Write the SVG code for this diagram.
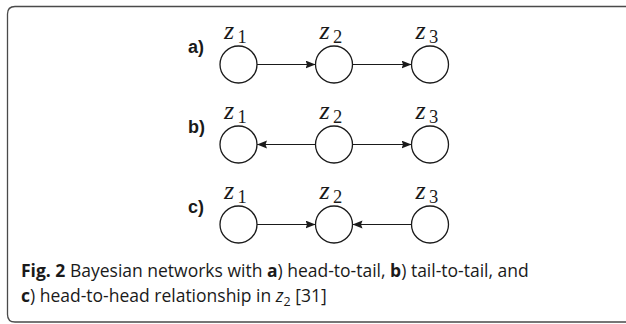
<svg xmlns="http://www.w3.org/2000/svg" width="626" height="324" viewBox="0 0 626 324">
  <defs>
    <marker id="tip" markerUnits="userSpaceOnUse" markerWidth="12" markerHeight="10" refX="10" refY="4" orient="auto">
      <path d="M0,0 L10,4 L0,8 L1.5,4 Z" fill="#1a1a1a"/>
    </marker>
  </defs>
  <style>
    .node { fill: #fff; stroke: #1a1a1a; stroke-width: 1.3; }
    .edge { stroke: #1a1a1a; stroke-width: 1.1; fill: none; marker-end: url(#tip); }
  </style>

  <!-- frame, open on the right -->
  <path d="M626 6.5 H15 Q7.5 6.5 7.5 14 V314.5 Q7.5 322 15 322 H626" fill="none" stroke="#4a4a4a" stroke-width="1.3"/>

  <!-- row labels -->
  <g font-family="Liberation Sans, Arial, sans-serif" font-weight="bold" font-size="18" fill="#1a1a1a">
    <text x="188" y="52.5">a)</text>
    <text x="188" y="132.5">b)</text>
    <text x="188" y="212.5">c)</text>
  </g>

  <!-- connectors -->
  <g id="edges">
    <line class="edge" x1="257" y1="64.5" x2="315.5" y2="64.5"/>
    <line class="edge" x1="352.5" y1="64.5" x2="411.5" y2="64.5"/>
    <line class="edge" x1="315.5" y1="144.5" x2="257" y2="144.5"/>
    <line class="edge" x1="352.5" y1="144.5" x2="411.5" y2="144.5"/>
    <line class="edge" x1="257" y1="224.5" x2="315.5" y2="224.5"/>
    <line class="edge" x1="411.5" y1="224.5" x2="352.5" y2="224.5"/>
  </g>

  <g font-family="Liberation Serif, serif" fill="#1a1a1a">
    <!-- row a -->
    <g id="a-z1"><circle class="node" cx="238.5" cy="64.5" r="18.5"/><text font-style="italic" font-size="26" x="224" y="38.5">z</text><text font-size="18.5" x="237.5" y="42.5">1</text></g>
    <g id="a-z2"><circle class="node" cx="334" cy="64.5" r="18.5"/><text font-style="italic" font-size="26" x="319.5" y="38.5">z</text><text font-size="18.5" x="333" y="42.5">2</text></g>
    <g id="a-z3"><circle class="node" cx="430" cy="64.5" r="18.5"/><text font-style="italic" font-size="26" x="415.5" y="38.5">z</text><text font-size="18.5" x="429" y="42.5">3</text></g>

    <!-- row b -->
    <g id="b-z1"><circle class="node" cx="238.5" cy="144.5" r="18.5"/><text font-style="italic" font-size="26" x="224" y="118.5">z</text><text font-size="18.5" x="237.5" y="122.5">1</text></g>
    <g id="b-z2"><circle class="node" cx="334" cy="144.5" r="18.5"/><text font-style="italic" font-size="26" x="319.5" y="118.5">z</text><text font-size="18.5" x="333" y="122.5">2</text></g>
    <g id="b-z3"><circle class="node" cx="430" cy="144.5" r="18.5"/><text font-style="italic" font-size="26" x="415.5" y="118.5">z</text><text font-size="18.5" x="429" y="122.5">3</text></g>

    <!-- row c -->
    <g id="c-z1"><circle class="node" cx="238.5" cy="224.5" r="18.5"/><text font-style="italic" font-size="26" x="224" y="198.5">z</text><text font-size="18.5" x="237.5" y="202.5">1</text></g>
    <g id="c-z2"><circle class="node" cx="334" cy="224.5" r="18.5"/><text font-style="italic" font-size="26" x="319.5" y="198.5">z</text><text font-size="18.5" x="333" y="202.5">2</text></g>
    <g id="c-z3"><circle class="node" cx="430" cy="224.5" r="18.5"/><text font-style="italic" font-size="26" x="415.5" y="198.5">z</text><text font-size="18.5" x="429" y="202.5">3</text></g>
  </g>

  <!-- caption -->
  <g font-family="Open Sans, Noto Sans, sans-serif" font-size="17.5" fill="#1a1a1a">
    <text x="21" y="277"><tspan font-weight="bold">Fig. 2</tspan> Bayesian networks with <tspan font-weight="bold">a</tspan>) head-to-tail, <tspan font-weight="bold">b</tspan>) tail-to-tail, and</text>
    <text x="21" y="302"><tspan font-weight="bold">c</tspan>) head-to-head relationship in <tspan font-style="italic">z</tspan><tspan font-size="12.5" dy="3.5">2</tspan><tspan dy="-3.5"> [31]</tspan></text>
  </g>
</svg>
